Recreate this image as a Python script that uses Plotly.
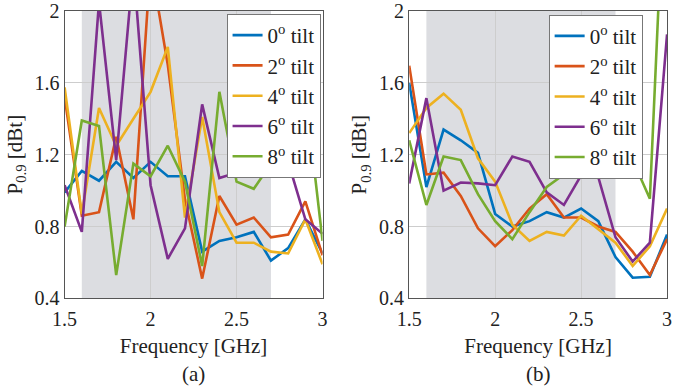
import plotly.graph_objects as go

freq = [1.5, 1.6, 1.7, 1.8, 1.9, 2.0, 2.1, 2.2, 2.3, 2.4, 2.5, 2.6, 2.7, 2.8, 2.9, 3.0]
labels = ["0<sup>o</sup> tilt", "2<sup>o</sup> tilt", "4<sup>o</sup> tilt", "6<sup>o</sup> tilt", "8<sup>o</sup> tilt"]
colors = ["#0072BD", "#D95319", "#EDB120", "#7E2F8E", "#77AC30"]

# panel (a)
tilt0_a = [0.99, 1.11, 1.055, 1.16, 1.07, 1.16, 1.08, 1.08, 0.66, 0.72, 0.74, 0.77, 0.61, 0.68, 0.84, 0.65]
tilt2_a = [1.52, 0.86, 0.88, 1.30, 0.84, 2.27, 1.70, 0.95, 0.51, 0.97, 0.81, 0.85, 0.74, 0.755, 0.94, 0.64]
tilt4_a = [1.575, 0.87, 1.46, 1.25, 1.40, 1.55, 1.80, 0.85, 1.41, 0.88, 0.71, 0.71, 0.66, 0.65, 0.84, 0.59]
tilt6_a = [1.03, 0.77, 2.05, 1.17, 2.25, 1.03, 0.62, 0.79, 1.48, 1.07, 1.10, 1.17, 1.10, 1.16, 0.84, 0.76]
tilt8_a = [0.80, 1.39, 1.36, 0.53, 1.15, 1.08, 1.25, 1.05, 0.58, 1.55, 1.05, 1.01, 1.15, 1.42, 1.55, 0.72]

# panel (b)
tilt0_b = [1.60, 1.02, 1.34, 1.28, 1.21, 0.87, 0.80, 0.83, 0.88, 0.85, 0.90, 0.83, 0.63, 0.515, 0.52, 0.755]
tilt2_b = [1.695, 1.09, 1.10, 0.97, 0.79, 0.69, 0.78, 0.90, 0.98, 0.85, 0.85, 0.80, 0.77, 0.66, 0.53, 0.73]
tilt4_b = [1.32, 1.46, 1.54, 1.45, 1.18, 1.05, 0.81, 0.72, 0.77, 0.75, 0.86, 0.785, 0.71, 0.58, 0.69, 0.90]
tilt6_b = [1.04, 1.515, 1.0, 1.045, 1.04, 1.03, 1.19, 1.16, 0.99, 0.92, 1.085, 1.075, 0.74, 0.605, 0.71, 1.87]
tilt8_b = [1.28, 0.92, 1.19, 1.17, 0.98, 0.83, 0.73, 0.88, 1.02, 1.09, 1.10, 1.12, 1.19, 1.17, 0.955, 3.1]

band = [1.6, 2.7]
x_ticks = [1.5, 2, 2.5, 3]
x_ticktext = ["1.5", "2", "2.5", "3"]
y_ticks = [0.4, 0.8, 1.2, 1.6, 2.0]
y_ticktext = ["0.4", "0.8", "1.2", "1.6", "2"]

FONT = "Liberation Serif, Times New Roman, serif"
fig = go.Figure()

series_a = [tilt0_a, tilt2_a, tilt4_a, tilt6_a, tilt8_a]
series_b = [tilt0_b, tilt2_b, tilt4_b, tilt6_b, tilt8_b]
for i, ys in enumerate(series_a):
    fig.add_trace(go.Scatter(x=freq, y=ys, mode="lines", name=labels[i],
                             line=dict(color=colors[i], width=2.6),
                             xaxis="x", yaxis="y", legend="legend"))
for i, ys in enumerate(series_b):
    fig.add_trace(go.Scatter(x=freq, y=ys, mode="lines", name=labels[i],
                             line=dict(color=colors[i], width=2.6),
                             xaxis="x2", yaxis="y2", legend="legend2"))

for xr, yr in [("x", "y"), ("x2", "y2")]:
    fig.add_shape(type="rect", xref=xr, yref=yr, x0=band[0], x1=band[1], y0=0.4, y1=2.0,
                  fillcolor="#dcdde1", line=dict(width=0), layer="below")

ax_common = dict(showline=True, linecolor="#555555", linewidth=1.2, mirror=True,
                 showgrid=True, gridcolor="#cdcdcd", gridwidth=1, zeroline=False,
                 ticks="", ticklabeloverflow="allow",
                 tickfont=dict(family=FONT, size=20, color="#222"))

YR = [0.3999, 2.0001]
XT = dict(text="Frequency [GHz]", font=dict(family=FONT, size=21, color="#222"), standoff=8)
YT = dict(text="P<sub>0.9</sub> [dBt]", font=dict(family=FONT, size=21, color="#222"), standoff=6)

fig.update_layout(
    width=678, height=390, margin=dict(l=0, r=0, t=9, b=0),
    plot_bgcolor="white", paper_bgcolor="white",
    font=dict(family=FONT, size=20, color="#222"),
    xaxis=dict(domain=[0.0782, 0.469], range=[1.5, 3], tickvals=x_ticks, ticktext=x_ticktext,
               title=XT, anchor="y", ticklabelstandoff=3, **ax_common),
    yaxis=dict(domain=[0.2191, 1.0], range=YR, tickvals=y_ticks, ticktext=y_ticktext,
               title=YT, anchor="x", **ax_common),
    xaxis2=dict(domain=[0.6003, 0.991], range=[1.5, 3], tickvals=x_ticks, ticktext=x_ticktext,
                title=XT, anchor="y2", ticklabelstandoff=3, **ax_common),
    yaxis2=dict(domain=[0.2191, 1.0], range=YR, tickvals=y_ticks, ticktext=y_ticktext,
                title=YT, anchor="x2", **ax_common),
    legend=dict(x=0.466, y=0.992, xanchor="right", yanchor="top", bgcolor="white",
                bordercolor="#777", borderwidth=1, font=dict(family=FONT, size=21, color="#222"),
                itemwidth=30, tracegroupgap=0),
    legend2=dict(x=0.954, y=0.990, xanchor="right", yanchor="top", bgcolor="white",
                 bordercolor="#777", borderwidth=1, font=dict(family=FONT, size=21, color="#222"),
                 itemwidth=30, tracegroupgap=0),
    showlegend=True,
)

fig.add_annotation(text="(a)", x=(0.0782 + 0.469) / 2, y=0.0, xref="paper", yref="paper",
                   showarrow=False, font=dict(family=FONT, size=21, color="#222"),
                   xanchor="center", yanchor="bottom", yshift=-9)
fig.add_annotation(text="(b)", x=(0.6003 + 0.991) / 2, y=0.0, xref="paper", yref="paper",
                   showarrow=False, font=dict(family=FONT, size=21, color="#222"),
                   xanchor="center", yanchor="bottom", yshift=-9)

fig.write_html("out.html")
